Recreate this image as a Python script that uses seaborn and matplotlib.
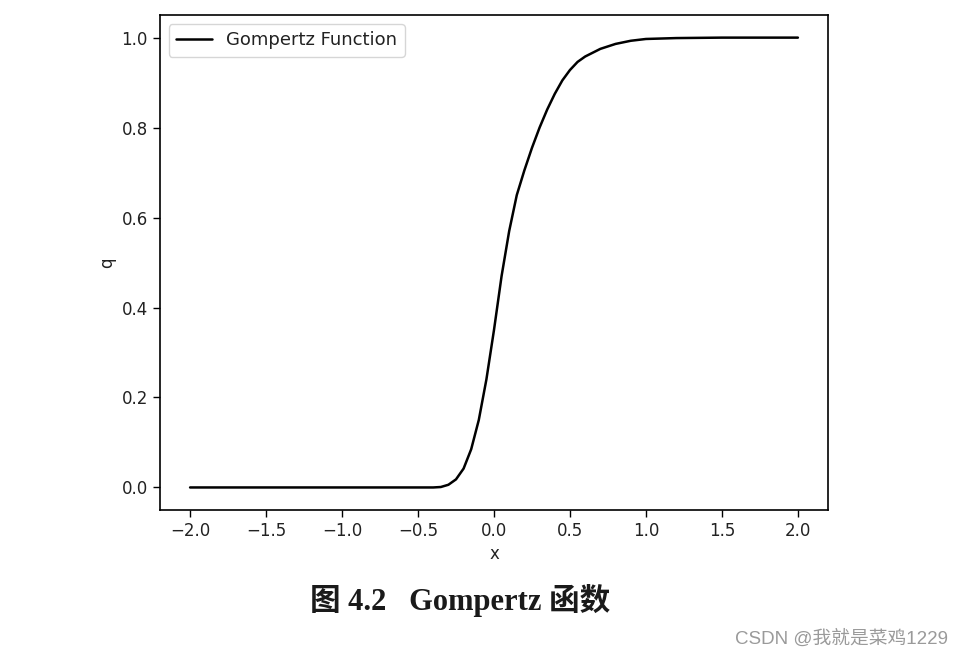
import seaborn as sns
import matplotlib
matplotlib.use("Agg")
import matplotlib.pyplot as plt
import pandas as pd

x_vals = [-2.0, -1.5, -1.0, -0.5, -0.4, -0.35, -0.3, -0.25, -0.2, -0.15, -0.1, -0.05,
          0.0, 0.05, 0.1, 0.15, 0.2, 0.25, 0.3, 0.35, 0.4, 0.45, 0.5, 0.55,
          0.6, 0.7, 0.8, 0.9, 1.0, 1.2, 1.5, 2.0]
q_vals = [0.0, 0.0, 0.0, 0.0, 0.0, 0.001, 0.006, 0.018, 0.042, 0.085, 0.15, 0.24,
          0.35, 0.47, 0.57, 0.65, 0.705, 0.755, 0.80, 0.84, 0.875, 0.905, 0.928, 0.946,
          0.958, 0.975, 0.986, 0.993, 0.997, 0.999, 1.0, 1.0]
x_ticks = [-2.0, -1.5, -1.0, -0.5, 0.0, 0.5, 1.0, 1.5, 2.0]
y_ticks = [0.0, 0.2, 0.4, 0.6, 0.8, 1.0]

sns.set_style("ticks")
plt.rcParams['font.family'] = ['DejaVu Sans', 'Noto Sans CJK SC']

datos = pd.DataFrame({'x': x_vals, 'q': q_vals})

fig = plt.figure(figsize=(9.62, 6.58), dpi=100)
ax = fig.add_axes([0.166, 0.225, 0.695, 0.752])

sns.lineplot(data=datos, x='x', y='q', color='black', linewidth=1.8,
             label='Gompertz Function', ax=ax)

ax.set_xticks(x_ticks)
ax.set_yticks(y_ticks)
ax.tick_params(labelsize=12, length=5, width=1, color='black', labelcolor='#222222')
ax.set_xlabel("x", fontsize=12, color='#222222')
ax.set_ylabel("q", fontsize=12, color='#222222')
for s in ax.spines.values():
    s.set_color('black')
    s.set_linewidth(1.2)

leg = ax.legend(loc='upper left', fontsize=13, frameon=True, handlelength=2.0)
for t in leg.get_texts():
    t.set_color('#222222')

# titulo de la figura (estilo libro)
fig.text(0.478, 0.088, "图 4.2   Gompertz 函数", ha='center', va='center',
         fontsize=22, fontweight='bold', color='#1a1a1a',
         family=['Liberation Serif', 'Noto Sans CJK SC'])

# marca de agua
fig.text(0.985, 0.03, "CSDN @我就是菜鸡1229", ha='right', va='center',
         fontsize=13.5, color='#9a9a9a',
         family=['Liberation Sans', 'Noto Sans CJK SC'])

fig.savefig("out.png", dpi=100)
